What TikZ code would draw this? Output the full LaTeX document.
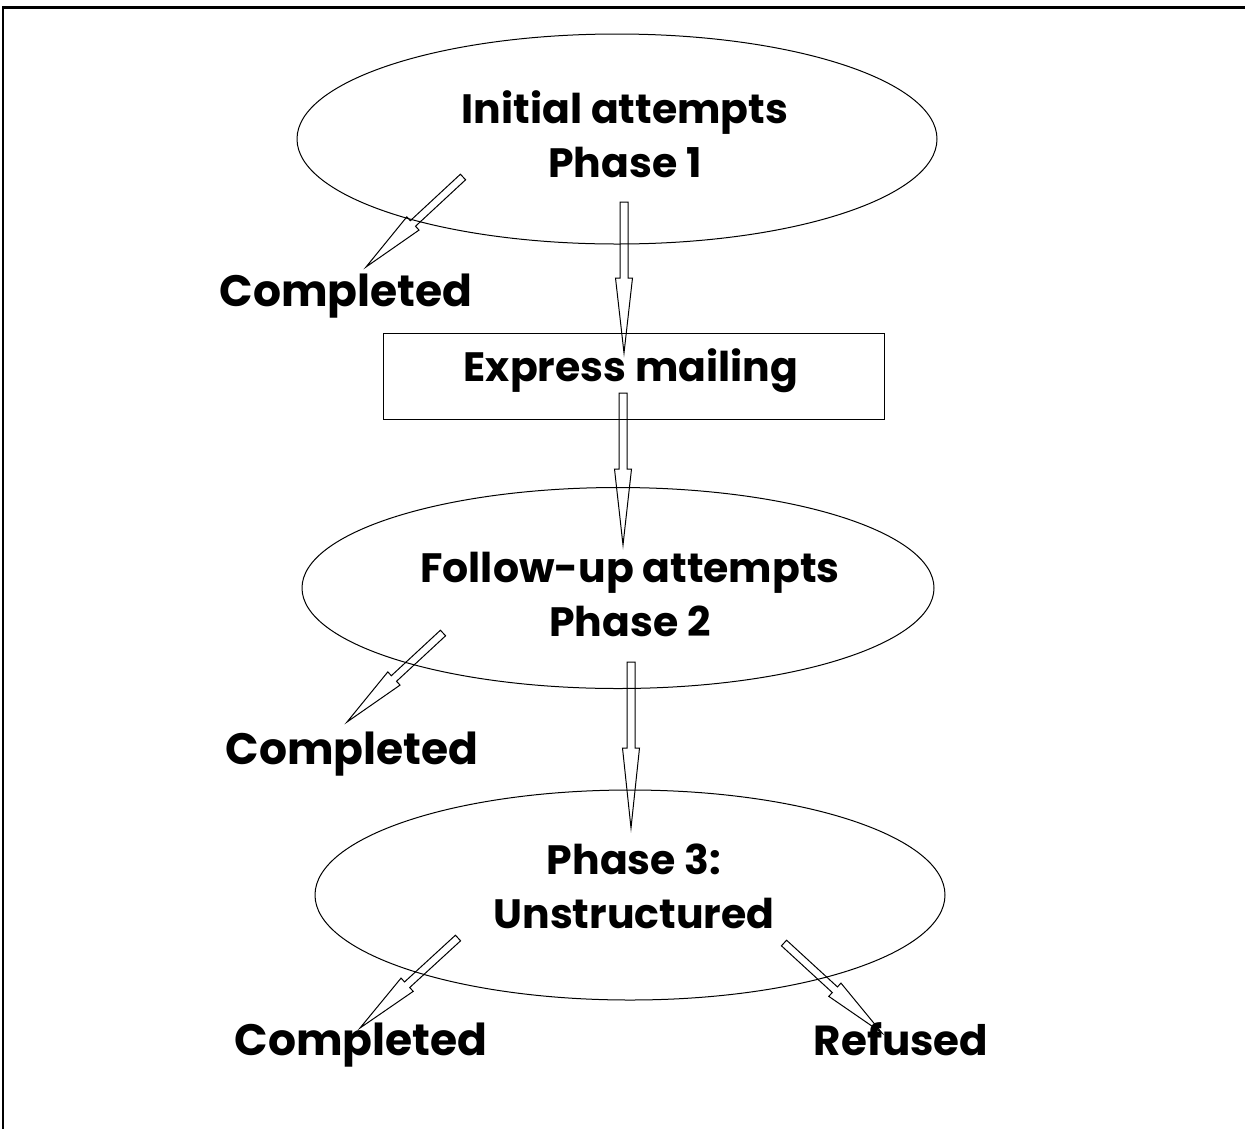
\documentclass[tikz,border=0pt]{standalone}
\usepackage{fontspec}
\setmainfont{Poppins}
\usetikzlibrary{calc,shapes.geometric}
\tikzset{
  lbl/.style={font=\fontsize{41}{54}\selectfont\bfseries, align=center, inner sep=0pt},
  endlbl/.style={font=\fontsize{#1}{54}\selectfont\bfseries, inner sep=0pt, text height=30pt, text depth=0pt},
  oval/.style={draw, line width=1pt, ellipse, inner sep=0pt},
  boxnode/.style={draw, line width=1pt, rectangle, inner sep=0pt},
  hollow/.style={draw, line width=1pt, line join=miter}
}
% hollow block arrow: #1 start, #2 tip, #3 shaft half width, #4 head half width, #5 head length
\newcommand\hollowarrow[5]{%
  \coordinate (hb) at ($(#2)!#5!(#1)$);
  \draw[hollow] ($(#1)!#3!90:(#2)$) -- ($(hb)!#3!90:(#2)$) -- ($(hb)!#4!90:(#2)$)
    -- (#2) -- ($(hb)!#4!-90:(#2)$) -- ($(hb)!#3!-90:(#2)$) -- ($(#1)!#3!-90:(#2)$) -- cycle;}
\begin{document}
\begin{tikzpicture}[x=1pt, y=-1pt]
\useasboundingbox (0,0) rectangle (1245,1128);
% frame
\draw[line width=3pt] (3,7) -- (1250,7);
\draw[line width=2pt] (3,6) -- (3,1130);
% shapes
\node[oval, minimum width=640, minimum height=210] (e1) at (617,139) {};
\node[lbl] (t1) at (625,134) {Initial attempts\\Phase 1};
\node[boxnode, minimum width=501, minimum height=86] (box) at (633.5,376) {};
\node[lbl] (t2) at (631,371) {Express mailing};
\node[oval, minimum width=632, minimum height=201] (e2) at (618,588) {};
\node[lbl] (t3) at (630,594) {Follow-up attempts\\Phase 2};
\node[oval, minimum width=630, minimum height=210] (e3) at (630,895) {};
\node[lbl] (t4) at (634,886) {Phase 3:\\Unstructured};
\node[endlbl=44] (c1) at (346,291) {Completed};
\node[endlbl=44] (c2) at (352,749) {Completed};
\node[endlbl=44] (c3) at (361,1040) {Completed};
\node[endlbl=42] (r1) at (901,1040) {Refused};
% arrow coordinates
\coordinate (a1s) at (624,202); \coordinate (a1t) at (624,353);
\coordinate (a2s) at (623,393); \coordinate (a2t) at (623,545);
\coordinate (a3s) at (631,662); \coordinate (a3t) at (631,828);
\coordinate (s1s) at (463,177); \coordinate (s1t) at (366,267);
\coordinate (s2s) at (443,633); \coordinate (s2t) at (347,722);
\coordinate (s3s) at (458,938); \coordinate (s3t) at (360,1028);
\coordinate (s4s) at (784,943); \coordinate (s4t) at (882,1033);
\hollowarrow{a1s}{a1t}{4pt}{8.5pt}{75pt}
\hollowarrow{a2s}{a2t}{4pt}{8.5pt}{76pt}
\hollowarrow{a3s}{a3t}{4pt}{8.5pt}{80pt}
\hollowarrow{s1s}{s1t}{3.8pt}{9pt}{64pt}
\hollowarrow{s2s}{s2t}{3.8pt}{9pt}{64pt}
\hollowarrow{s3s}{s3t}{3.8pt}{9pt}{64pt}
\hollowarrow{s4s}{s4t}{3.8pt}{9pt}{64pt}
\end{tikzpicture}
\end{document}
